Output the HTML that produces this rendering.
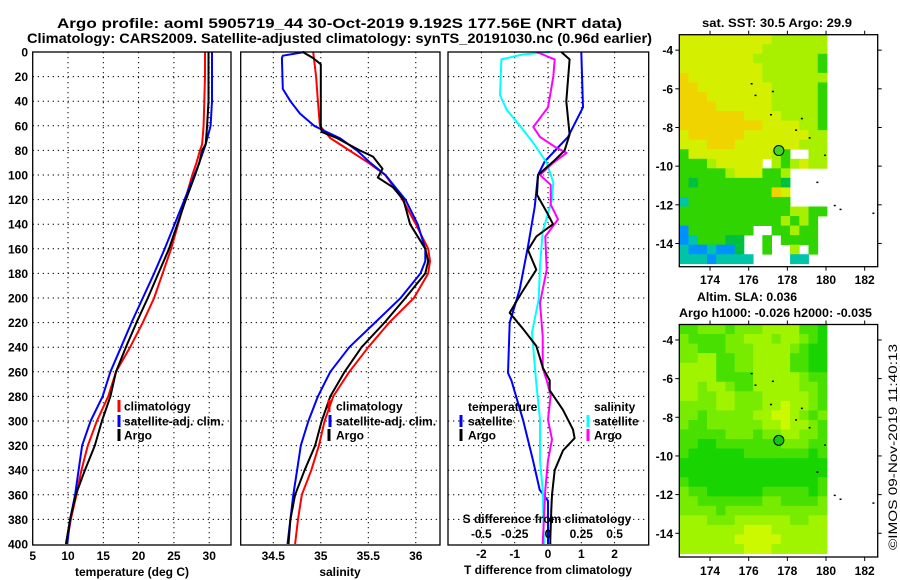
<!DOCTYPE html>
<html><head><meta charset="utf-8">
<style>
html,body{margin:0;padding:0;background:#fff;}
svg{display:block;font-family:"Liberation Sans",Arial,sans-serif;font-weight:bold;}
</style></head>
<body>
<svg id="c" width="900" height="580" viewBox="0 0 900 580" xmlns="http://www.w3.org/2000/svg">
<rect x="0" y="0" width="900" height="580" fill="#fff"/>
<text x="57" y="28" font-size="14" textLength="565" lengthAdjust="spacingAndGlyphs">Argo profile: aoml 5905719_44 30-Oct-2019 9.192S 177.56E (NRT data)</text>
<text x="27" y="43" font-size="14" textLength="625" lengthAdjust="spacingAndGlyphs">Climatology: CARS2009. Satellite-adjusted climatology: synTS_20191030.nc (0.96d earlier)</text>
<text x="702" y="27" font-size="12" textLength="150" lengthAdjust="spacingAndGlyphs">sat. SST: 30.5 Argo: 29.9</text>
<text x="697" y="301" font-size="12" textLength="100" lengthAdjust="spacingAndGlyphs">Altim. SLA: 0.036</text>
<text x="679" y="317" font-size="12" textLength="193" lengthAdjust="spacingAndGlyphs">Argo h1000: -0.026 h2000: -0.035</text>
<text transform="translate(897,550) rotate(-90)" font-size="12" font-weight="normal" textLength="206" lengthAdjust="spacingAndGlyphs">©IMOS 09-Nov-2019 11:40:13</text>
<g id="plots"></g>
</svg>
<script>
// ---- profile data (depth m / values) ----
const tDepths = [0,20,40,60,75,80,90,100,120,140,160,180,200,220,240,260,280,300,320,340,360,380,400];
const tArgo   = [29.9,29.9,29.9,29.7,29.5,29.0,28.6,28.0,26.7,25.5,24.3,22.8,21.3,19.7,18.2,16.8,16.0,14.8,13.8,12.4,11.1,10.3,9.7];
const tClim   = [29.4,29.4,29.3,29.2,29.0,28.7,28.2,27.6,26.6,25.6,24.6,23.4,22.2,20.6,18.8,16.8,15.7,14.1,12.8,11.9,11.2,10.4,9.8];
const tSat    = [30.4,30.4,30.4,30.2,29.5,29.2,28.6,27.9,26.5,25.1,23.7,22.2,20.6,19.0,17.5,16.0,14.9,13.2,12.0,11.5,11.0,10.3,9.9];

const sArgoDepths = [0,5,10,60,65,70,80,85,95,102,110,120,140,160,170,180,200,220,240,260,280,300,320,340,360,380,400];
const sArgo       = [34.81,34.92,35.0,35.0,35.01,35.17,35.41,35.55,35.65,35.6,35.76,35.87,35.94,36.1,36.13,36.1,35.89,35.67,35.43,35.25,35.1,35.01,34.94,34.83,34.73,34.68,34.66];
const sClimDepths = [0,20,40,60,70,80,90,100,120,140,160,170,180,200,220,240,260,280,300,320,340,360,380,400];
const sClim       = [34.92,34.95,34.97,34.99,35.1,35.3,35.5,35.68,35.86,36.0,36.13,36.15,36.13,35.98,35.72,35.5,35.3,35.13,35.04,34.98,34.9,34.8,34.76,34.73];
const sSatDepths  = [0,3,5,30,40,50,60,65,70,80,90,100,120,140,160,170,180,200,220,240,260,280,300,320,340,360,380,400];
const sSat        = [34.83,34.6,34.59,34.6,34.68,34.78,34.93,35.06,35.2,35.38,35.52,35.68,35.89,36.02,36.1,36.1,36.05,35.84,35.57,35.3,35.1,34.97,34.87,34.79,34.75,34.71,34.68,34.65];

const dtSatDepths  = [0,45,69,89,100,126,158,193,220,261,267,299,332,356,365,400];
const dtSat        = [1.0,1.05,0.6,-0.1,-0.3,-0.4,-0.6,-0.85,-1.15,-1.2,-1.1,-0.75,-0.45,-0.25,0,0];
const dtArgoDepths = [0,6,40,67,80,88,100,116,132,140,150,161,177,196,212,225,239,257,267,275,291,307,314,324,340,360,372,396,400];
const dtArgo       = [0.4,0.65,0.55,0.65,0.5,0.2,-0.3,-0.33,0,0.15,-0.35,-0.6,-0.35,-0.8,-1.15,-0.75,-0.35,-0.15,0.05,0.05,0.45,0.75,0.8,0.45,0.2,0.12,0.1,0.07,0.07];
const dsSatDepths  = [0,2,6,35,47,60,74,90,106,120,146,174,201,228,267,299,332,356,400];
const dsSat        = [0.015,-0.19,-0.35,-0.36,-0.31,-0.21,-0.11,-0.01,0.04,0.03,-0.04,-0.06,-0.07,-0.12,-0.09,-0.06,-0.06,-0.04,-0.03];
const dsArgoDepths = [0,6,20,45,61,69,77,82,90,100,108,124,136,150,177,204,231,257,267,279,299,315,332,356,400];
const dsArgo       = [-0.085,0.05,0.04,0,-0.11,-0.06,0.05,0.14,0.04,-0.06,0.02,0.02,0.075,-0.02,-0.01,-0.06,-0.04,-0.04,-0.01,0.02,0,0.03,0,-0.02,-0.04];

const depthTicks = [0,20,40,60,80,100,120,140,160,180,200,220,240,260,280,300,320,340,360,380,400];
const tTicks = [5,10,15,20,25,30];
const sTicks = [34.5,35,35.5,36];
const dtTicks = [-2,-1,0,1,2];
const dsTicks = [-0.5,-0.25,0,0.25,0.5];
const dsTickLabels = ["-0.5","-0.25","0","0.25","0.5"];

// ---- map data (0.5 deg cells, rows north->south) ----
const sstRows = [
"yyyyyyyyyyllllll","yyyyyyyyylllllll","yyyyyyyylllllllg","yyyyyyyyyllllllg",
"oyyyyyyyylllllll","ooyyyyyyyylllllg","oooyyyyyyylllllg","ooooyyyyyylllllg",
"oooooooyyyyllllg","oooooooooyyyyllg","yooooooyyyyyyyll","yyyoooyyyyyyylll",
"gyyyyyyyyylgwwll","ggglyyyyywlglyll","ggggglyyygglwwww","gGgggggggggGwwww",
"ggggggggggoywwww","cgggggggggggwwww","ggggggggggggllgg","ggggggggggglglgw",
"bgggggggwwgglggw","bcgggGGwwgwggggw","cbbcbbGwwgwwlwgw","cccbccccwwwwccww"];
const slaRows = [
"ggmmmgmmmaaaaggd","mggggmmaaamaamgd","mmgggmmmaaaamgdd","mmaaggmmaaaaggdd",
"aaaaggmmaaaaggdd","aaaaggggaaaaamgg","aamaamggaaaaammg","aammaammmaaaaamg",
"mmmmaammmaayaamg","mmgmmmmmaayyamgm","mggmmmmmmaayaamg","gggggmmmgmmaammg",
"ggddgggggggmmmgg","gddddddgggggggdg","dddddddddddddddd","dddddddddddddddd",
"gddddddddddddddg","mggddddddgggggdg","mmgggggggmmggggm","mmmmgmmmmmmmmmmm",
"aaammmaaaaaammaa","aaaaaaayyyaaaaaa","aaaaaayyyyyaaaaa","aaaaaaayyyaaaaaa"];
const islandLon = [176.1,176.3,177.2,177.1,178.7,178.4,179.1,179.9,179.5,180.4,180.7,182.4];
const islandLat = [-5.7,-6.3,-6.1,-7.3,-7.5,-8.1,-8.5,-9.4,-10.8,-12.0,-12.2,-12.4];
const argoLon = 177.56, argoLat = -9.192;
const lonTicks = [174,176,178,180,182];
const latTicks = [-4,-6,-8,-10,-12,-14];

const sstColors = {y:"#d4f000",o:"#f0d400",l:"#a8f000",g:"#30d400",G:"#00c040",c:"#00c4a8",b:"#0090ff",w:null};
const slaColors = {a:"#a0f400",m:"#78ec00",g:"#48e000",d:"#18d400",y:"#ccf800"};

const NS="http://www.w3.org/2000/svg";
const root=document.getElementById('plots');
function mk(tag,attrs,parent){const e=document.createElementNS(NS,tag);for(const k in attrs)e.setAttribute(k,attrs[k]);(parent||root).appendChild(e);return e;}

const Y0=52, Y1=545;
const yD = d => 52 + d*1.23;
const xT = t => 32.7 + (t-5)*7.06;
const xS = s => 273.3 + (s-34.5)*95;
const xDT = v => 548 + v*33.3;
const xDS = v => 548 + v*133.2;

function frame(x0,x1,name){
  const r=mk('rect',{x:x0,y:Y0,width:x1-x0,height:Y1-Y0,fill:'none',stroke:'#000','stroke-width':1.3});
  
  
}
function grid(x0,x1,xs,name){
  const g=mk('g',{stroke:'#000','stroke-width':1,'stroke-dasharray':'1.3 3.7'});
  
  
  depthTicks.forEach(d=>{if(d>0&&d<400){mk('line',{x1:x0,x2:x1,y1:yD(d),y2:yD(d)},g);}});
  xs.forEach(x=>{mk('line',{x1:x,x2:x,y1:Y0,y2:Y1},g);});
}
function series(depths,vals,xf,color,name){
  const pts=depths.map((d,i)=>xf(vals[i]).toFixed(1)+','+yD(d).toFixed(1)).join(' ');
  const p=mk('polyline',{points:pts,fill:'none',stroke:color,'stroke-width':2,'stroke-linejoin':'round'});
  
  
}
function txt(x,y,s,opts,name){
  const t=mk('text',Object.assign({x:x,y:y,'font-size':12},opts||{}));
  t.textContent=s;
  
  
  return t;
}
function legendItem(mx,tx,y,color,label,name){
  const r=mk('rect',{x:mx-1.5,y:y-6,width:3,height:12,fill:color});
  
  
  txt(tx,y+4.5,label,{},name+'-label');
}

// Panel 1 temperature
grid(32.7,231,tTicks.slice(1).map(xT),'temperature');
series(tDepths,tClim,xT,'#f00','temperature-climatology-line');
series(tDepths,tSat,xT,'#00f','temperature-satellite-line');
series(tDepths,tArgo,xT,'#000','temperature-argo-line');
frame(32.7,231,'temperature-panel');
depthTicks.forEach(d=>txt(28,yD(d)+4.5,String(d),{'text-anchor':'end'},'depth-tick-'+d));
tTicks.forEach(t=>txt(xT(t),560,String(t),{'text-anchor':'middle'},'temperature-tick-'+t));
txt(132,576,'temperature (deg C)',{'text-anchor':'middle'},'temperature-axis-title');
legendItem(119,124,406,'#f00','climatology','legend-climatology');
legendItem(119,124,421,'#00f','satellite-adj. clim.','legend-satellite-adj');
legendItem(119,124,435,'#000','Argo','legend-argo');

// Panel 2 salinity
grid(240.7,440,sTicks.map(xS),'salinity');
series(sClimDepths,sClim,xS,'#f00','salinity-climatology-line');
series(sSatDepths,sSat,xS,'#00f','salinity-satellite-line');
series(sArgoDepths,sArgo,xS,'#000','salinity-argo-line');
frame(240.7,440,'salinity-panel');
sTicks.forEach(s=>txt(xS(s),560,String(s),{'text-anchor':'middle'},'salinity-tick-'+s));
txt(340,576,'salinity',{'text-anchor':'middle'},'salinity-axis-title');
legendItem(329,336,406,'#f00','climatology','salinity-legend-climatology');
legendItem(330,336,421,'#00f','satellite-adj. clim.','salinity-legend-satellite-adj');
legendItem(329,336,435,'#000','Argo','salinity-legend-argo');

// Panel 3 differences
grid(448,648.7,dtTicks.map(xDT),'difference');
series(dtSatDepths,dtSat,xDT,'#00f','t-diff-satellite-line');
series(dsSatDepths,dsSat,xDS,'#0ff','s-diff-satellite-line');
series(dsArgoDepths,dsArgo,xDS,'#f0f','s-diff-argo-line');
series(dtArgoDepths,dtArgo,xDT,'#000','t-diff-argo-line');
frame(448,648.7,'difference-panel');
dtTicks.forEach(v=>txt(xDT(v),558,String(v),{'text-anchor':'middle'},'t-diff-tick-'+v));
txt(548,574,'T difference from climatology',{'text-anchor':'middle'},'t-diff-axis-title');
dsTicks.forEach((v,i)=>txt(xDS(v),538,dsTickLabels[i],{'text-anchor':'middle'},'s-diff-tick-'+i));
txt(547,523,'S difference from climatology',{'text-anchor':'middle'},'s-diff-axis-title');
txt(468,411,'temperature',{},'t-legend-heading');
legendItem(461,468,421,'#00f','satellite','t-legend-satellite');
legendItem(461,468,435,'#000','Argo','t-legend-argo');
txt(594,411,'salinity',{},'s-legend-heading');
legendItem(588,594,421,'#0ff','satellite','s-legend-satellite');
legendItem(588,594,435,'#f0f','Argo','s-legend-argo');

// Maps
const MX0=679.3, MX1=877.7;
const lonX = lon => 679.3 + (lon-172.41)*19.33;
function drawMap(top,bottom,rows,colors,circleFill,name,lonLabelY){
  const latY = lat => top + (-3.2-lat)*19.33;
  const g=mk('g',{});
  
  
  const nr=rows.length, nc=rows[0].length;
  const cw=(lonX(180.05)-MX0)/nc, ch=(latY(-15.05)-top)/nr;
  rows.forEach((row,ri)=>{
    for(let ci=0;ci<nc;ci++){
      const col=colors[row[ci]];
      if(!col) continue;
      const r=mk('rect',{x:(MX0+ci*cw).toFixed(2),y:(top+ri*ch).toFixed(2),width:(cw+0.4).toFixed(2),height:(ch+0.4).toFixed(2),fill:col},g);
      
      
    }
  });
  islandLon.forEach((lon,i)=>{
    const r=mk('rect',{x:lonX(lon),y:latY(islandLat[i]),width:2,height:1.5,fill:'#000'},g);
    
    
  });
  const c=mk('circle',{cx:lonX(argoLon),cy:latY(argoLat),r:5,fill:circleFill,stroke:'#000','stroke-width':1},g);
  
  
  const f=mk('rect',{x:MX0,y:top,width:MX1-MX0,height:bottom-top,fill:'none',stroke:'#000','stroke-width':1.3},g);
  
  
  lonTicks.forEach(l=>{
    mk('line',{x1:lonX(l),x2:lonX(l),y1:top,y2:top-4,stroke:'#000'},g);
    mk('line',{x1:lonX(l),x2:lonX(l),y1:bottom,y2:bottom+4,stroke:'#000'},g);
    txt(lonX(l),lonLabelY,String(l),{'text-anchor':'middle'},name+'-lon-tick-'+l);
  });
  latTicks.forEach(l=>{
    mk('line',{x1:MX0,x2:MX0-4,y1:latY(l),y2:latY(l),stroke:'#000'},g);
    mk('line',{x1:MX1,x2:MX1+4,y1:latY(l),y2:latY(l),stroke:'#000'},g);
    txt(673,latY(l)+4.5,String(l),{'text-anchor':'end'},name+'-lat-tick-'+l);
  });
}
drawMap(34.7,266.7,sstRows,sstColors,'#40d820','sst-map',284);
drawMap(324.5,557,slaRows,slaColors,'#10c810','sla-map',575);
</script>
</body></html>
